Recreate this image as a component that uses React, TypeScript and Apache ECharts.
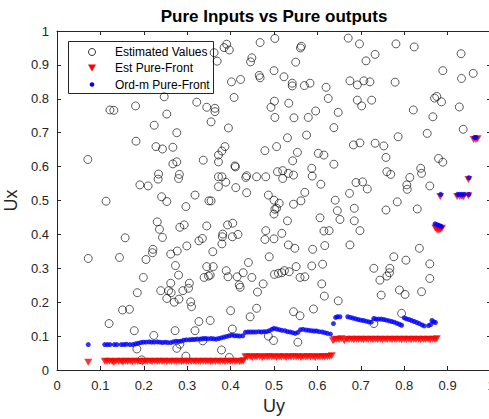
import React, { useEffect, useRef } from "react";
import * as echarts from "echarts";

const titleText = "Pure Inputs vs Pure outputs";
const xName = "Uy";
const yName = "Ux";
const legendNames = ["Estimated Values", "Est Pure-Front", "Ord-m Pure-Front"];

const estimatedValues: number[][] = [
  [0.391,0.961],[0.385,0.951],[0.397,0.944],[0.369,0.911],[0.468,0.966],[0.502,0.978],[0.449,0.921],[0.446,0.909],[0.466,0.869],[0.468,0.862],[0.500,0.883],[0.523,0.865],[0.542,0.846],[0.542,0.838],[0.561,0.950],[0.563,0.955],[0.550,0.908],[0.570,0.839],[0.583,0.846],[0.620,0.834],[0.625,0.801],[0.648,0.760],[0.596,0.764],[0.579,0.745],[0.546,0.744],[0.534,0.787],[0.501,0.793],[0.493,0.775],[0.502,0.745],[0.638,0.715],[0.575,0.693],[0.531,0.685],[0.671,0.979],[0.697,0.962],[0.712,0.912],[0.733,0.931],[0.675,0.853],[0.692,0.841],[0.707,0.853],[0.721,0.850],[0.692,0.796],[0.702,0.779],[0.725,0.796],[0.781,0.962],[0.823,0.953],[0.779,0.849],[0.821,0.767],[0.698,0.670],[0.786,0.688],[0.853,0.698],[0.866,0.747],[0.870,0.802],[0.875,0.807],[0.886,0.791],[0.889,0.883],[0.931,0.933],[0.932,0.860],[0.959,0.875],[0.927,0.776],[0.936,0.710],[0.402,0.850],[0.423,0.857],[0.408,0.804],[0.322,0.790],[0.345,0.775],[0.364,0.772],[0.364,0.762],[0.355,0.732],[0.395,0.714],[0.276,0.700],[0.224,0.722],[0.253,0.755],[0.181,0.779],[0.122,0.767],[0.131,0.766],[0.247,0.806],[0.182,0.675],[0.362,0.936],
  [0.071,0.621],[0.072,0.329],[0.113,0.498],[0.144,0.332],[0.157,0.390],[0.191,0.546],[0.210,0.543],[0.199,0.273],[0.205,0.326],[0.220,0.346],[0.221,0.356],[0.228,0.659],[0.243,0.652],[0.267,0.657],[0.234,0.578],[0.233,0.563],[0.241,0.511],[0.253,0.497],[0.231,0.437],[0.236,0.415],[0.243,0.391],[0.262,0.342],[0.277,0.351],[0.273,0.308],[0.280,0.280],[0.267,0.608],[0.276,0.614],[0.282,0.577],[0.280,0.565],[0.297,0.482],[0.283,0.421],[0.293,0.428],[0.299,0.366],[0.318,0.516],[0.337,0.619],[0.327,0.381],[0.335,0.388],[0.345,0.425],[0.345,0.305],[0.360,0.305],[0.339,0.273],[0.349,0.277],[0.353,0.280],[0.350,0.499],[0.355,0.499],[0.359,0.349],[0.372,0.634],[0.380,0.646],[0.387,0.659],[0.372,0.614],[0.372,0.570],[0.380,0.570],[0.389,0.554],[0.372,0.541],[0.382,0.401],[0.381,0.393],[0.380,0.372],[0.393,0.428],[0.405,0.433],[0.404,0.393],[0.417,0.400],[0.390,0.293],[0.394,0.275],[0.410,0.602],[0.411,0.599],[0.412,0.538],[0.437,0.573],[0.435,0.568],[0.437,0.523],[0.460,0.570],[0.479,0.647],[0.481,0.570],[0.487,0.516],[0.481,0.411],[0.479,0.385],[0.441,0.317],[0.429,0.287],[0.415,0.275],[0.449,0.273],[0.489,0.334],[0.506,0.659],[0.508,0.585],[0.500,0.501],[0.512,0.492],[0.502,0.474],[0.506,0.477],[0.500,0.460],[0.518,0.403],[0.500,0.387],[0.520,0.588],[0.520,0.565],[0.533,0.580],[0.545,0.575],[0.543,0.617],[0.554,0.642],[0.531,0.440],[0.545,0.489],[0.562,0.499],[0.571,0.524],[0.533,0.369],[0.548,0.359],[0.501,0.282],[0.510,0.285],[0.518,0.287],[0.524,0.293],[0.535,0.290],[0.551,0.305],[0.560,0.273],[0.571,0.275],[0.587,0.595],[0.588,0.572],[0.602,0.639],[0.615,0.634],[0.608,0.548],[0.638,0.607],[0.641,0.501],[0.646,0.470],[0.652,0.444],[0.606,0.449],[0.615,0.410],[0.627,0.411],[0.617,0.367],[0.589,0.356],[0.587,0.307],[0.612,0.312],[0.674,0.521],[0.689,0.553],[0.704,0.555],[0.715,0.534],[0.683,0.664],[0.733,0.669],[0.753,0.661],[0.758,0.627],[0.760,0.585],[0.769,0.577],[0.685,0.477],[0.685,0.440],[0.698,0.411],[0.675,0.369],[0.758,0.472],[0.784,0.496],[0.776,0.334],[0.804,0.324],[0.835,0.359],[0.813,0.568],[0.806,0.546],[0.807,0.533],[0.838,0.595],[0.840,0.580],[0.830,0.475],[0.859,0.543],[0.879,0.624],[0.889,0.613],[0.859,0.313],[0.730,0.300],[0.767,0.300],[0.766,0.287],[0.760,0.277],[0.744,0.265],[0.859,0.270],
  [0.120,0.137],[0.151,0.177],[0.167,0.179],[0.178,0.116],[0.185,0.228],[0.184,0.062],[0.195,0.030],[0.223,0.102],[0.239,0.234],[0.253,0.211],[0.257,0.234],[0.262,0.256],[0.263,0.228],[0.270,0.200],[0.281,0.209],[0.272,0.116],[0.276,0.064],[0.283,0.076],[0.290,0.234],[0.303,0.241],[0.305,0.256],[0.308,0.201],[0.310,0.187],[0.297,0.041],[0.318,0.116],[0.327,0.143],[0.336,0.086],[0.353,0.146],[0.379,0.059],[0.400,0.175],[0.404,0.121],[0.397,0.037],[0.420,0.251],[0.422,0.244],[0.445,0.157],[0.460,0.182],[0.462,0.230],[0.475,0.254],[0.487,0.100],[0.499,0.087],[0.545,0.172],[0.560,0.160],[0.555,0.082],[0.591,0.180],[0.610,0.254],[0.616,0.218],[0.648,0.204],[0.747,0.221],[0.789,0.236],[0.802,0.223],[0.794,0.167],[0.840,0.231],[0.730,0.137]
];

const estPureFront: number[][] = [
  [0.072,0.023],
  [0.110,0.026],[0.115,0.025],[0.121,0.026],[0.127,0.025],[0.131,0.022],[0.136,0.026],[0.142,0.025],[0.148,0.026],[0.152,0.023],[0.158,0.026],[0.163,0.025],[0.169,0.026],[0.174,0.024],[0.180,0.026],[0.186,0.025],[0.191,0.026],[0.197,0.024],[0.203,0.026],[0.208,0.025],[0.214,0.026],[0.219,0.024],[0.225,0.026],[0.231,0.025],[0.236,0.026],[0.242,0.025],[0.247,0.026],[0.253,0.024],[0.259,0.026],[0.264,0.025],[0.270,0.026],[0.275,0.025],[0.281,0.026],[0.287,0.024],[0.292,0.026],[0.298,0.025],[0.303,0.026],[0.309,0.025],[0.315,0.026],[0.320,0.024],[0.326,0.026],[0.331,0.025],[0.337,0.026],[0.343,0.025],[0.348,0.026],[0.354,0.024],[0.359,0.026],[0.365,0.025],[0.371,0.026],[0.376,0.025],[0.382,0.026],[0.387,0.024],[0.393,0.026],[0.399,0.025],[0.404,0.026],[0.410,0.025],[0.415,0.026],[0.421,0.024],[0.426,0.026],[0.430,0.027],
  [0.434,0.039],[0.439,0.038],[0.445,0.039],[0.450,0.037],[0.456,0.039],[0.461,0.038],[0.467,0.039],[0.473,0.037],[0.478,0.039],[0.484,0.038],[0.489,0.039],[0.495,0.038],[0.500,0.039],[0.506,0.037],[0.512,0.039],[0.517,0.038],[0.523,0.039],[0.528,0.037],[0.534,0.039],[0.539,0.038],[0.545,0.039],[0.551,0.038],[0.556,0.039],[0.562,0.037],[0.567,0.039],[0.573,0.038],[0.578,0.039],[0.584,0.038],[0.590,0.039],[0.595,0.037],[0.601,0.039],[0.606,0.038],[0.612,0.039],[0.617,0.038],[0.623,0.039],[0.628,0.040],[0.633,0.042],
  [0.636,0.086],[0.640,0.090],[0.645,0.091],[0.650,0.090],[0.655,0.092],[0.662,0.086],[0.668,0.091],[0.673,0.090],[0.679,0.091],[0.684,0.089],[0.690,0.091],[0.695,0.090],[0.701,0.091],[0.706,0.089],[0.712,0.091],[0.717,0.090],[0.723,0.091],[0.728,0.089],[0.734,0.091],[0.739,0.090],[0.745,0.091],[0.750,0.089],[0.756,0.091],[0.761,0.090],[0.767,0.091],[0.772,0.089],[0.778,0.091],[0.783,0.090],[0.789,0.091],[0.794,0.089],[0.800,0.091],[0.805,0.090],[0.811,0.091],[0.816,0.089],[0.822,0.091],[0.827,0.090],[0.833,0.091],[0.838,0.089],[0.844,0.091],[0.849,0.090],[0.855,0.091],[0.860,0.089],[0.866,0.091],[0.871,0.090],[0.875,0.092],
  [0.872,0.418],[0.876,0.413],[0.880,0.412],[0.884,0.415],[0.887,0.418],[0.878,0.420],[0.883,0.512],[0.922,0.512],[0.928,0.512],[0.933,0.512],[0.937,0.512],[0.948,0.514],[0.948,0.562],[0.960,0.680],[0.965,0.680],[0.969,0.682]
];

const ordmPureFront: number[][] = [
  [0.072,0.075],
  [0.110,0.075],[0.116,0.075],[0.122,0.075],[0.132,0.075],[0.138,0.075],[0.148,0.075],[0.154,0.075],[0.160,0.076],[0.168,0.075],[0.175,0.075],[0.181,0.077],[0.187,0.079],[0.193,0.081],[0.199,0.082],[0.205,0.082],[0.212,0.083],[0.218,0.082],[0.224,0.082],[0.231,0.083],[0.237,0.082],[0.243,0.081],[0.249,0.082],[0.255,0.081],[0.262,0.081],[0.268,0.083],[0.274,0.085],[0.280,0.084],[0.286,0.085],[0.292,0.088],[0.298,0.089],[0.305,0.089],[0.311,0.090],[0.317,0.090],[0.323,0.091],[0.330,0.091],[0.336,0.092],[0.342,0.093],[0.348,0.092],[0.355,0.093],[0.361,0.092],[0.367,0.091],[0.373,0.093],[0.379,0.095],[0.385,0.097],[0.391,0.099],[0.397,0.101],[0.403,0.103],[0.409,0.101],[0.415,0.101],[0.421,0.100],[0.428,0.101],
  [0.434,0.111],[0.440,0.112],[0.446,0.112],[0.452,0.112],[0.458,0.112],[0.465,0.113],[0.471,0.112],[0.477,0.113],[0.483,0.113],[0.489,0.116],[0.495,0.120],[0.500,0.123],[0.506,0.121],[0.512,0.119],[0.518,0.117],[0.525,0.116],[0.531,0.113],[0.537,0.112],[0.543,0.110],[0.549,0.108],[0.555,0.111],[0.561,0.119],[0.567,0.120],[0.574,0.118],[0.580,0.117],[0.586,0.116],[0.592,0.115],[0.598,0.115],[0.604,0.113],[0.611,0.112],[0.617,0.110],[0.623,0.108],[0.630,0.106],
  [0.637,0.137],[0.642,0.155],[0.646,0.157],[0.652,0.157],[0.670,0.157],[0.676,0.155],[0.682,0.153],[0.688,0.151],[0.694,0.149],[0.700,0.147],[0.706,0.146],[0.712,0.144],[0.718,0.142],[0.724,0.141],[0.730,0.152],[0.735,0.150],[0.741,0.150],[0.747,0.150],[0.753,0.149],[0.759,0.147],[0.765,0.145],[0.771,0.143],[0.777,0.141],[0.783,0.138],[0.789,0.135],[0.794,0.132],[0.800,0.154],[0.805,0.151],[0.811,0.149],[0.817,0.146],[0.823,0.143],[0.829,0.140],[0.835,0.137],[0.841,0.133],[0.846,0.130],[0.856,0.131],[0.861,0.134],[0.864,0.146],[0.868,0.142],[0.872,0.140],
  [0.871,0.431],[0.875,0.429],[0.879,0.427],[0.883,0.425],[0.886,0.423],[0.884,0.518],[0.923,0.518],[0.928,0.518],[0.933,0.518],[0.938,0.518],[0.949,0.518],[0.949,0.567],[0.962,0.686],[0.966,0.686]
];

const FONT = '"Liberation Sans", Arial, Helvetica, sans-serif';
const AX = "#262626";

export default function App() {
  const ref = useRef<HTMLDivElement>(null);
  useEffect(() => {
    if (!ref.current) return;
    const chart = echarts.init(ref.current, undefined, { renderer: "svg" });
    const axisCommon = {
      type: "value" as const,
      min: 0,
      max: 1,
      interval: 0.1,
      splitLine: { show: false },
      axisLine: { show: true, onZero: false, lineStyle: { color: AX, width: 1 } },
      axisTick: { show: true, inside: true, length: 4, lineStyle: { color: AX, width: 1 } },
    };
    chart.setOption({
      animation: false,
      backgroundColor: "#fff",
      grid: { left: 57, top: 31, width: 434, height: 339, containLabel: false, outerBoundsMode: "none" },
      xAxis: [
        {
          ...axisCommon,
          position: "bottom",
          name: xName,
          nameLocation: "middle",
          nameGap: 26,
          nameTextStyle: { color: AX, fontSize: 18, fontFamily: FONT },
          axisLabel: { color: AX, fontSize: 13, fontFamily: FONT, margin: 9 },
        },
        { ...axisCommon, position: "top", axisLabel: { show: false } },
      ],
      yAxis: [
        {
          ...axisCommon,
          position: "left",
          name: yName,
          nameLocation: "middle",
          nameGap: 30,
          nameTextStyle: { color: AX, fontSize: 18, fontFamily: FONT },
          axisLabel: { color: AX, fontSize: 13, fontFamily: FONT, margin: 8 },
        },
        { ...axisCommon, position: "right", axisLabel: { show: false } },
      ],
      series: [
        {
          name: legendNames[0],
          type: "scatter",
          data: estimatedValues,
          symbol: "circle",
          symbolSize: 8,
          itemStyle: { color: "rgba(0,0,0,0)", borderColor: "#000", borderWidth: 0.8 },
          silent: true,
          z: 2,
        },
        {
          name: legendNames[1],
          type: "scatter",
          data: estPureFront,
          symbol: "triangle",
          symbolRotate: 180,
          symbolSize: [8, 7],
          itemStyle: { color: "#ff0000" },
          silent: true,
          z: 3,
        },
        {
          name: legendNames[2],
          type: "scatter",
          data: ordmPureFront,
          symbol: "circle",
          symbolSize: 5,
          itemStyle: { color: "#0000ff" },
          silent: true,
          z: 4,
        },
      ],
      graphic: [
        {
          type: "text",
          x: 274,
          y: 16,
          z: 100,
          style: {
            text: titleText,
            fill: "#000",
            font: `bold 17px ${FONT}`,
            textAlign: "center",
            textVerticalAlign: "middle",
          },
        },
        {
          type: "group",
          z: 100,
          children: [
            {
              type: "rect",
              shape: { x: 68.5, y: 41.5, width: 145, height: 52 },
              style: { fill: "#fff", stroke: AX, lineWidth: 1 },
            },
            {
              type: "circle",
              shape: { cx: 92, cy: 52, r: 3.5 },
              style: { fill: "none", stroke: "#000", lineWidth: 0.8 },
            },
            {
              type: "polygon",
              shape: { points: [[88, 64.5], [96, 64.5], [92, 71.5]] },
              style: { fill: "#ff0000" },
            },
            {
              type: "circle",
              shape: { cx: 92, cy: 84.5, r: 2.3 },
              style: { fill: "#0000ff" },
            },
            {
              type: "text",
              x: 115,
              y: 52,
              style: { text: legendNames[0], fill: "#000", font: `12px ${FONT}`, textVerticalAlign: "middle" },
            },
            {
              type: "text",
              x: 115,
              y: 68,
              style: { text: legendNames[1], fill: "#000", font: `12px ${FONT}`, textVerticalAlign: "middle" },
            },
            {
              type: "text",
              x: 115,
              y: 84.5,
              style: { text: legendNames[2], fill: "#000", font: `12px ${FONT}`, textVerticalAlign: "middle" },
            },
          ],
        },
      ],
    });
    return () => chart.dispose();
  }, []);
  return (
    <div
      ref={ref}
      style={{ position: "fixed", left: 0, top: 0, width: 489, height: 419, background: "#fff" }}
    />
  );
}
